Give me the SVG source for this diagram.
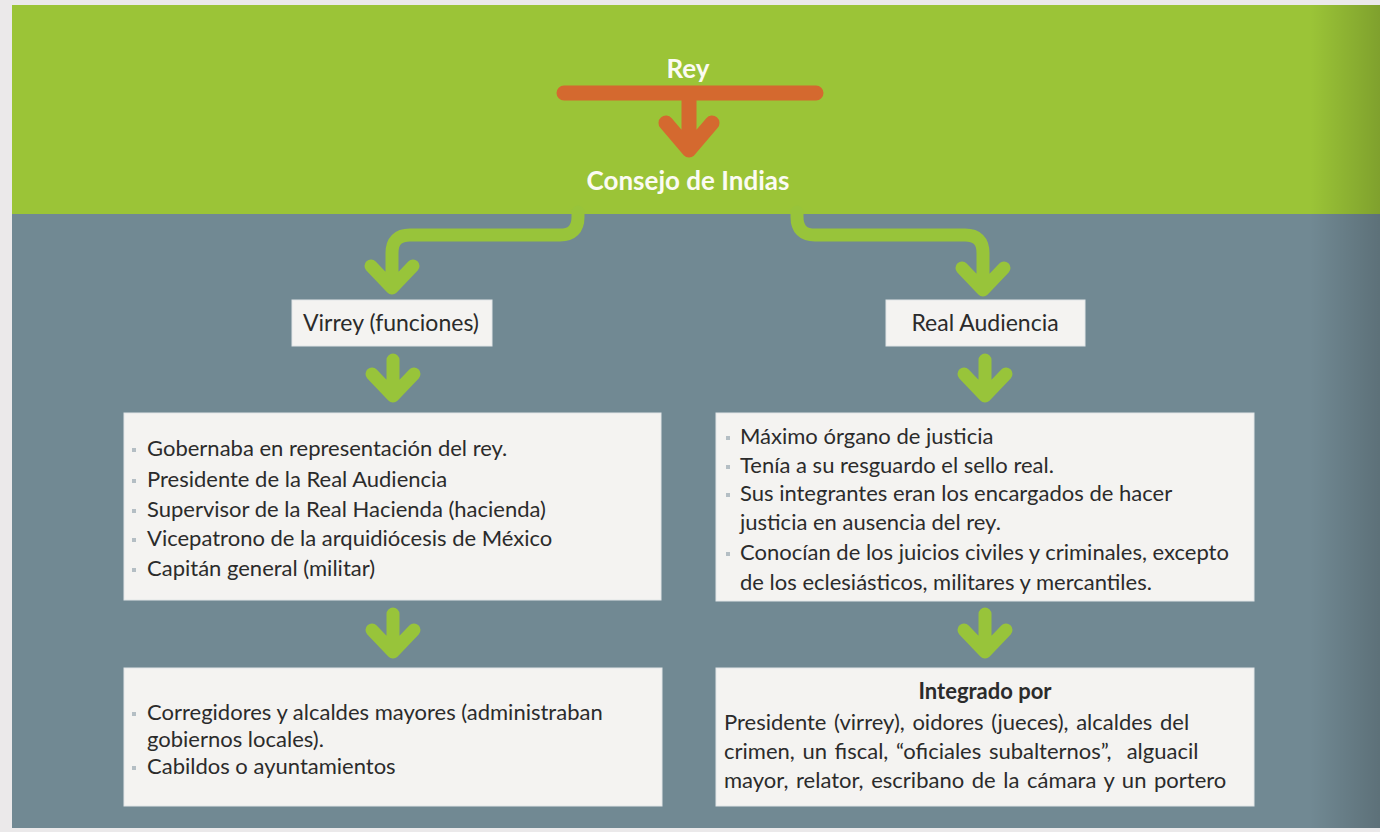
<svg xmlns="http://www.w3.org/2000/svg" width="1380" height="832" viewBox="0 0 1380 832">
<defs>
<linearGradient id="edge" x1="0" y1="0" x2="1" y2="0">
<stop offset="0" stop-color="#000" stop-opacity="0"/>
<stop offset="1" stop-color="#000" stop-opacity="0.18"/>
</linearGradient>
<style>
.box{fill:#f4f3f1;stroke:#e2e6e7;stroke-width:1}
.t{font-family:Lato,"Liberation Sans",sans-serif;font-size:22px;fill:#2b2b2b}
.lab{font-family:Lato,"Liberation Sans",sans-serif;font-size:23px;fill:#2b2b2b}
.tb{font-family:Lato,"Liberation Sans",sans-serif;font-size:22px;font-weight:bold;fill:#2b2b2b}
.title{font-family:Lato,"Liberation Sans",sans-serif;font-size:26px;font-weight:bold;fill:#fbfbf3}
.g{fill:none;stroke:#98c43a;stroke-width:13;stroke-linecap:round;stroke-linejoin:round}
.o{fill:none;stroke:#d4692f;stroke-width:15;stroke-linecap:round;stroke-linejoin:round}
.b{fill:#b4bec4}
</style>
</defs>
<rect x="0" y="0" width="1380" height="832" fill="#ebe9ea"/>
<rect x="12" y="5" width="1368" height="209" fill="#9bc437"/>
<rect x="12" y="214" width="1368" height="614" fill="#718993"/>
<rect x="1310" y="5" width="70" height="823" fill="url(#edge)"/>

<g id="rey"><text class="title" x="688" y="78" text-anchor="middle">Rey</text></g>
<g id="consejo"><text class="title" x="688" y="190" text-anchor="middle">Consejo de Indias</text></g>

<g id="connectors">
<path class="o" d="M564 93 L816 93 M689 93 L689 150 M666 123 L689 150 L712 123"/>
<path class="g" d="M578 212 L578 217 Q578 235 560 235 L410 235 Q392 235 392 253 L392 288 M371 266 L392 288 L413 266"/>
<path class="g" d="M797 212 L797 217 Q797 235 815 235 L965 235 Q983 235 983 253 L983 290 M962 268 L983 290 L1004 268"/>
<path class="g" d="M393 360 L393 396 M372 374 L393 396 L414 374"/>
<path class="g" d="M985 360 L985 396 M964 374 L985 396 L1006 374"/>
<path class="g" d="M393 614 L393 652 M372 630 L393 652 L414 630"/>
<path class="g" d="M985 614 L985 652 M964 630 L985 652 L1006 630"/>
</g>

<g id="virrey">
<rect class="box" x="292" y="300" width="200" height="46"/>
<text class="lab" x="391" y="331" text-anchor="middle">Virrey (funciones)</text>
</g>

<g id="audiencia">
<rect class="box" x="886" y="300" width="199" height="46"/>
<text class="lab" x="985" y="331" text-anchor="middle">Real Audiencia</text>
</g>

<g id="funciones-virrey">
<rect class="box" x="124" y="413" width="537" height="187"/>
<rect class="b" x="132" y="448" width="4" height="4"/>
<rect class="b" x="132" y="479" width="4" height="4"/>
<rect class="b" x="132" y="509" width="4" height="4"/>
<rect class="b" x="132" y="538" width="4" height="4"/>
<rect class="b" x="132" y="568" width="4" height="4"/>
<text class="t" x="147" y="456">Gobernaba en representación del rey.</text>
<text class="t" x="147" y="487">Presidente de la Real Audiencia</text>
<text class="t" x="147" y="517">Supervisor de la Real Hacienda (hacienda)</text>
<text class="t" x="147" y="546">Vicepatrono de la arquidiócesis de México</text>
<text class="t" x="147" y="576">Capitán general (militar)</text>
</g>

<g id="funciones-audiencia">
<rect class="box" x="716" y="413" width="538" height="188"/>
<rect class="b" x="726" y="436" width="4" height="4"/>
<rect class="b" x="726" y="465" width="4" height="4"/>
<rect class="b" x="726" y="493" width="4" height="4"/>
<rect class="b" x="726" y="552" width="4" height="4"/>
<text class="t" x="740" y="444">Máximo órgano de justicia</text>
<text class="t" x="740" y="473">Tenía a su resguardo el sello real.</text>
<text class="t" x="740" y="501">Sus integrantes eran los encargados de hacer</text>
<text class="t" x="740" y="530">justicia en ausencia del rey.</text>
<text class="t" x="740" y="560">Conocían de los juicios civiles y criminales, excepto</text>
<text class="t" x="740" y="590">de los eclesiásticos, militares y mercantiles.</text>
</g>

<g id="gobiernos-locales">
<rect class="box" x="124" y="668" width="538" height="138"/>
<rect class="b" x="132" y="712" width="4" height="4"/>
<rect class="b" x="132" y="766" width="4" height="4"/>
<text class="t" x="147" y="720">Corregidores y alcaldes mayores (administraban</text>
<text class="t" x="147" y="747">gobiernos locales).</text>
<text class="t" x="147" y="774">Cabildos o ayuntamientos</text>
</g>

<g id="integrado">
<rect class="box" x="716" y="668" width="538" height="138"/>
<text class="tb" x="985" y="699" text-anchor="middle">Integrado por</text>
<text class="t" x="724" y="730" word-spacing="2">Presidente (virrey), oidores (jueces), alcaldes del</text>
<text class="t" x="724" y="759" word-spacing="2">crimen, un fiscal, “oficiales subalternos”,&#160; alguacil</text>
<text class="t" x="724" y="788" word-spacing="2">mayor, relator, escribano de la cámara y un portero</text>
</g>
</svg>
